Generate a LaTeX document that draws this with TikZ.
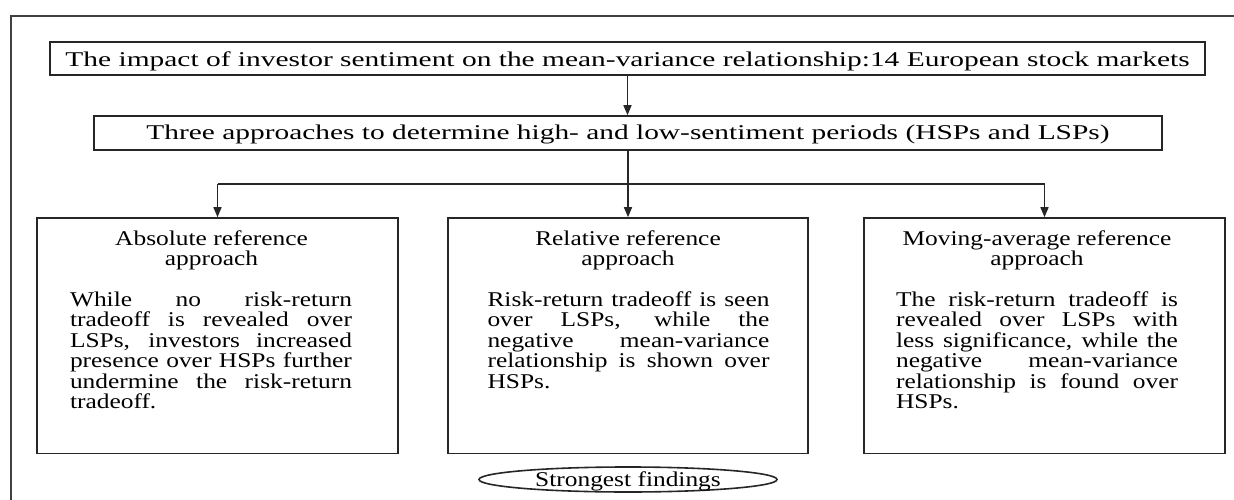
\documentclass[tikz,border=0pt]{standalone}
\usepackage{fontspec}
\setmainfont{Liberation Serif}
\usepackage{graphicx}
\usetikzlibrary{arrows.meta,shapes.geometric}
\newcommand{\hsx}[1]{\scalebox{1.21}[1]{#1}}
\newcommand{\jl}[1]{\makebox[\linewidth][s]{#1}\par}
\newcommand{\lastl}[1]{\makebox[\linewidth][l]{#1}\par}
\tikzset{
  box/.style={draw=black!85, line width=1.6pt, inner sep=0pt},
  ln/.style={draw=black!85, line width=1.5pt},
  arr/.style={draw=black!85, line width=1.5pt, -{Triangle[length=10pt,width=8pt]}},
  txt/.style={anchor=base, inner sep=0pt, text=black},
}
\begin{document}
\begin{tikzpicture}[x=1pt,y=-1pt]
\useasboundingbox (0,0) rectangle (1234,500);
% outer frame (cut by the page edges)
\draw[ln, draw=black!75] (11,500) -- (11,16) -- (1234,16);

% top boxes
\node[box, minimum width=1155pt, minimum height=33pt, text height=20pt, text depth=3pt, text=black]
  (T1) at (627.5,58.5)
  {\resizebox{1124pt}{\height}{\fontsize{21}{24}\selectfont The impact of investor sentiment on the mean-variance relationship:14 European stock markets}};
\node[box, minimum width=1068pt, minimum height=34pt, text height=17pt, text depth=3pt, text=black]
  (T2) at (628,133)
  {\resizebox{963pt}{\height}{\fontsize{21}{24}\selectfont Three approaches to determine high- and low-sentiment periods (HSPs and LSPs)}};

% lower boxes
\node[box, minimum width=361pt, minimum height=235.5pt] (A) at (217.5,335.75) {};
\node[box, minimum width=360pt, minimum height=235.5pt] (B) at (628,335.75) {};
\node[box, minimum width=361pt, minimum height=235.5pt] (C) at (1044.5,335.75) {};

% titles of lower boxes
\node[txt] (At) at (211.5,245) {\hsx{\parbox[t]{233pt}{\centering\fontsize{21}{20}\selectfont Absolute reference\\approach}}};
\node[txt] (Bt) at (628,245) {\hsx{\parbox[t]{233pt}{\centering\fontsize{21}{20}\selectfont Relative reference\\approach}}};
\node[txt] (Ct) at (1037,245) {\hsx{\parbox[t]{233pt}{\centering\fontsize{21}{20}\selectfont Moving-average reference\\approach}}};

% bodies of lower boxes
\node[txt] (Ab) at (211,306) {\hsx{\parbox[t]{233pt}{\fontsize{21}{20.5}\selectfont
  \jl{While no risk-return}
  \jl{tradeoff is revealed over}
  \jl{LSPs, investors increased}
  \jl{presence over HSPs further}
  \jl{undermine the risk-return}
  \lastl{tradeoff.}}}};
\node[txt] (Bb) at (628.5,306) {\hsx{\parbox[t]{233pt}{\fontsize{21}{20.5}\selectfont
  \jl{Risk-return tradeoff is seen}
  \jl{over LSPs, while the}
  \jl{negative mean-variance}
  \jl{relationship is shown over}
  \lastl{HSPs.}}}};
\node[txt] (Cb) at (1037,306) {\hsx{\parbox[t]{233pt}{\fontsize{21}{20.5}\selectfont
  \jl{The risk-return tradeoff is}
  \jl{revealed over LSPs with}
  \jl{less significance, while the}
  \jl{negative mean-variance}
  \jl{relationship is found over}
  \lastl{HSPs.}}}};

% ellipse
\node[ellipse, draw=black!85, line width=1.6pt, inner sep=0pt, minimum width=298pt, minimum height=25pt,
  text height=14pt, text depth=1pt, text=black]
  (E) at (628,479.5) {\hsx{\fontsize{21}{20}\selectfont Strongest findings}};

% connectors
\coordinate (J) at (628,184);
\draw[arr] (T1.south) -- (T1.south |- T2.north);
\draw[ln] (T2.south) -- (J);
\draw[ln] (A.north |- J) -- (C.north |- J);
\draw[arr] (A.north |- J) -- (A.north);
\draw[arr] (J) -- (B.north);
\draw[arr] (C.north |- J) -- (C.north);
\end{tikzpicture}
\end{document}
